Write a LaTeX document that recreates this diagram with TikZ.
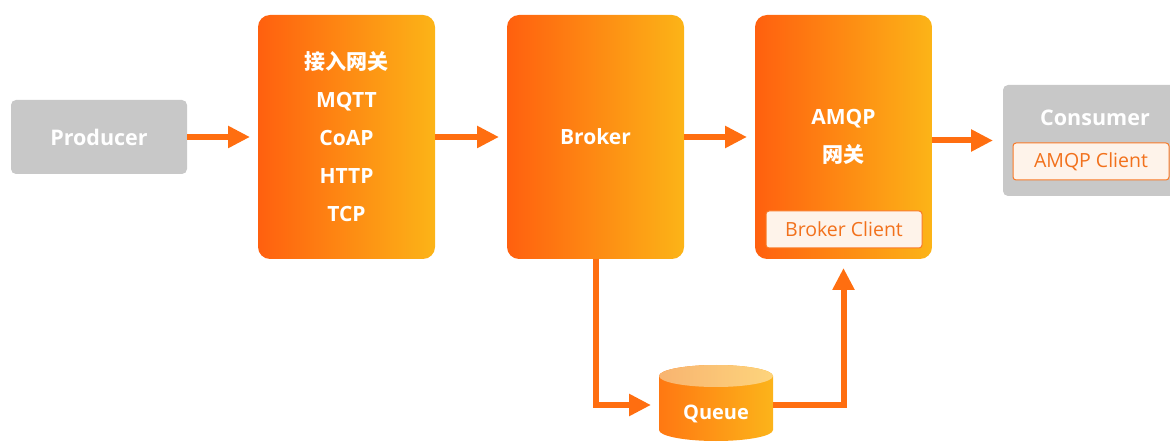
\documentclass[tikz,border=0pt]{standalone}
\usepackage{fontspec}
\setmainfont{Open Sans}
\newfontfamily\cjk{Noto Sans CJK SC}
\usetikzlibrary{arrows.meta,calc}
\definecolor{og1}{HTML}{FF600F}
\definecolor{og2}{HTML}{FCB417}
\definecolor{arrc}{HTML}{FF6E10}
\definecolor{grayb}{HTML}{C8C8C8}
\definecolor{clientfill}{HTML}{FEF3EA}
\definecolor{clientdraw}{HTML}{F97A28}
\definecolor{clienttext}{HTML}{F2711C}
\definecolor{q1}{HTML}{FF7812}
\definecolor{q2}{HTML}{FCB41A}
\definecolor{t1}{HTML}{F8B470}
\definecolor{t2}{HTML}{FDD47C}
\tikzset{
  graybox/.style={fill=grayb, rounded corners=5pt, inner sep=0pt, outer sep=0pt, text=white,
    font=\bfseries\fontsize{21.5}{24}\selectfont},
  gradbox/.style={rounded corners=12pt, left color=og1, right color=og2, minimum width=177pt,
    minimum height=244pt, inner sep=0pt, outer sep=0pt, text=white, align=center,
    font=\bfseries\fontsize{21}{38}\selectfont},
  clientbox/.style={fill=clientfill, draw=clientdraw, line width=1pt, rounded corners=3pt,
    minimum width=156pt, minimum height=37pt, inner sep=0pt, text=clienttext,
    font=\fontsize{19.5}{20}\selectfont},
  wlabel/.style={text=white, inner sep=0pt, font=\bfseries\fontsize{21.5}{24}\selectfont},
  arr/.style={draw=arrc, line width=6pt, -{Triangle[length=22pt,width=21pt]}, shorten >=8pt}
}
\begin{document}
\begin{tikzpicture}[x=1pt,y=1pt]
\useasboundingbox (0,0) rectangle (1170,442);
\clip (0,0) rectangle (1170,442);
% boxes
\node[graybox, minimum width=176pt, minimum height=74pt] (prod) at (99,305) {Producer};
\node[gradbox] (gw) at (346.5,305) {{\cjk 接入网关}\\MQTT\\CoAP\\HTTP\\TCP};
\node[gradbox] (broker) at (595.5,305) {Broker};
\node[gradbox] (amqp) at (843.5,305) {AMQP\\{\cjk 网关}};
\node[clientbox] (bclient) at (844,212.5) {Broker Client};
\node[graybox, minimum width=180pt, minimum height=111pt] (consumer) at (1093,301.5) {};
\node[wlabel] (constxt) at (1095,324) {Consumer};
\node[clientbox] (aclient) at (1091,280.5) {AMQP Client};
% queue cylinder
\node[minimum width=114pt, minimum height=80pt, inner sep=0pt, outer sep=0pt] (queue) at (716,37) {};
\shade[left color=q1, right color=q2] (659,66) -- (659,12)
  arc[start angle=180, end angle=360, x radius=57, y radius=11] -- (773,66)
  arc[start angle=0, end angle=180, x radius=57, y radius=11] -- cycle;
\shade[left color=t1, right color=t2] (716,66) ellipse[x radius=57, y radius=11];
\node[wlabel, font=\bfseries\fontsize{20}{22}\selectfont] (queuetxt) at (716,28) {Queue};
% arrows
\draw[arr] (prod.east) -- (gw.west);
\draw[arr] (gw.east) -- (broker.west);
\draw[arr] (broker.east) -- (amqp.west);
\draw[arr, shorten >=10pt] (amqp.east |- consumer.west) -- (consumer.west);
\draw[arr] (broker.south) |- (queue.west);
\draw[arr, shorten >=9pt] (queue.east) -| (amqp.south);
\end{tikzpicture}
\end{document}
